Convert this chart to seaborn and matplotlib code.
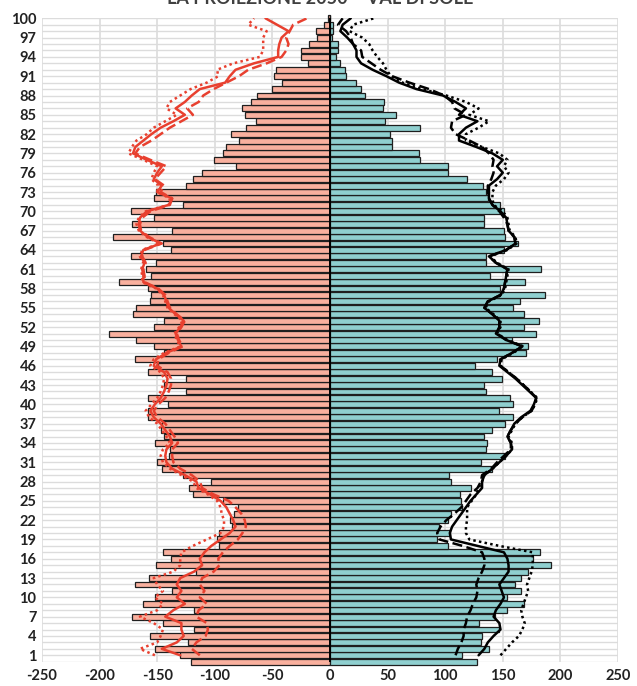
import seaborn as sns
import matplotlib.pyplot as plt
import pandas as pd

# ages for the bars (0..100) and for the projection lines (1..100)
ages = list(range(0, 101))
line_ages = list(range(1, 101))

# bars: left = women (negative), right = men
women = [-121, -130, -152, -123, -156, -118, -145, -172, -118, -162,
         -152, -137, -169, -157, -116, -151, -138, -145, -96, -98,
         -96, -85, -87, -83, -80, -93, -119, -122, -103, -128,
         -146, -150, -140, -139, -152, -144, -147, -146, -158, -158,
         -141, -158, -125, -144, -125, -158, -149, -169, -144, -153,
         -168, -192, -153, -144, -171, -168, -156, -155, -158, -183,
         -155, -160, -151, -173, -138, -145, -188, -137, -172, -153,
         -173, -128, -153, -151, -125, -119, -111, -82, -101, -93,
         -90, -79, -86, -73, -64, -74, -76, -69, -63, -50,
         -42, -49, -47, -19, -25, -25, -18, -11, -12, -5, -2]
men = [128, 115, 138, 131, 132, 147, 129, 143, 154, 168,
       154, 166, 161, 166, 172, 192, 176, 182, 102, 93,
       104, 95, 102, 105, 115, 114, 113, 122, 105, 103,
       141, 131, 152, 135, 136, 134, 141, 152, 159, 147,
       159, 156, 135, 134, 149, 141, 126, 145, 170, 172,
       158, 179, 168, 181, 168, 159, 165, 187, 148, 169,
       139, 183, 135, 135, 151, 163, 152, 151, 134, 134,
       151, 148, 137, 135, 133, 119, 102, 102, 78, 77,
       54, 54, 52, 78, 48, 57, 46, 47, 30, 27,
       23, 14, 13, 9, 5, 7, 7, 2, 3, 3, 0]

# projection lines, women (ages 1..100)
w_solid = [-130, -146, -133, -127, -129, -129, -143, -136, -126, -133,
           -129, -133, -130, -118, -111, -113, -109, -103, -95, -87,
           -82, -84, -87, -90, -95, -104, -114, -116, -126, -137,
           -142, -143, -142, -137, -139, -143, -147, -153, -156, -152,
           -147, -144, -142, -141, -144, -153, -151, -142, -129, -132,
           -134, -130, -127, -134, -140, -142, -144, -150, -162, -162,
           -163, -161, -164, -162, -147, -158, -165, -166, -165, -159,
           -140, -137, -150, -146, -153, -150, -146, -159, -171, -169,
           -162, -155, -147, -136, -126, -134, -126, -120, -113, -91,
           -87, -82, -66, -45, -45, -44, -42, -36, -46, -56]
w_dashed = [-113, -120, -116, -108, -106, -107, -116, -114, -107, -113,
            -109, -113, -111, -101, -96, -97, -93, -87, -80, -76,
            -73, -74, -77, -82, -88, -101, -111, -113, -120, -130,
            -136, -137, -137, -132, -135, -139, -143, -150, -153, -149,
            -143, -140, -138, -138, -141, -150, -149, -140, -128, -131,
            -133, -129, -126, -133, -139, -141, -143, -149, -161, -161,
            -162, -160, -163, -161, -146, -157, -164, -165, -163, -156,
            -139, -137, -147, -144, -152, -147, -142, -156, -169, -165,
            -155, -147, -139, -129, -119, -124, -114, -110, -101, -90,
            -79, -71, -55, -42, -38, -36, -38, -35, -32, -20]
w_dotted = [-152, -165, -150, -147, -145, -153, -165, -150, -145, -152,
            -145, -150, -153, -136, -130, -130, -129, -119, -107, -95,
            -92, -92, -94, -95, -98, -106, -116, -119, -129, -139,
            -145, -147, -145, -139, -142, -146, -150, -157, -160, -155,
            -150, -147, -145, -144, -147, -156, -153, -144, -130, -133,
            -135, -131, -128, -135, -141, -143, -145, -151, -163, -163,
            -164, -162, -165, -163, -148, -159, -166, -168, -166, -160,
            -140, -139, -150, -149, -155, -153, -150, -162, -175, -172,
            -168, -159, -153, -143, -133, -142, -139, -130, -121, -107,
            -97, -98, -84, -61, -58, -58, -58, -55, -71, -66]

# projection lines, men (ages 1..100)
m_solid = [129, 134, 137, 142, 148, 147, 142, 144, 148, 151,
           149, 147, 151, 155, 155, 154, 151, 128, 105, 104,
           106, 110, 114, 118, 122, 127, 132, 132, 134, 141,
           147, 153, 158, 157, 154, 157, 160, 166, 174, 177,
           179, 173, 167, 161, 154, 147, 148, 158, 167, 153,
           144, 147, 147, 141, 134, 137, 148, 151, 152, 153,
           154, 144, 138, 153, 161, 160, 155, 154, 153, 148,
           141, 138, 138, 138, 145, 150, 145, 150, 141, 127,
           112, 112, 118, 128, 112, 118, 109, 98, 75, 60,
           49, 37, 27, 23, 23, 20, 15, 9, 11, 18]
m_dashed = [109, 111, 114, 116, 116, 118, 119, 122, 124, 127,
            128, 127, 129, 132, 134, 134, 132, 115, 95, 93,
            96, 101, 108, 114, 118, 122, 128, 131, 132, 140,
            145, 151, 157, 157, 154, 157, 161, 167, 175, 178,
            179, 174, 168, 162, 155, 148, 148, 158, 167, 153,
            145, 147, 147, 141, 134, 137, 148, 151, 152, 153,
            154, 144, 138, 153, 161, 160, 155, 154, 151, 147,
            141, 138, 137, 137, 140, 142, 141, 142, 138, 132,
            121, 109, 105, 106, 118, 108, 106, 99, 86, 69,
            54, 44, 36, 28, 27, 20, 18, 14, 7, 11]
m_dotted = [148, 153, 158, 164, 167, 169, 167, 166, 168, 170,
            172, 171, 173, 175, 176, 176, 176, 147, 121, 118,
            118, 119, 119, 119, 123, 127, 129, 132, 134, 141,
            147, 153, 158, 158, 155, 158, 161, 167, 175, 178,
            180, 174, 168, 162, 155, 148, 149, 159, 168, 154,
            145, 148, 148, 142, 135, 138, 149, 152, 153, 154,
            155, 145, 139, 154, 162, 161, 156, 155, 154, 150,
            142, 141, 141, 144, 151, 155, 151, 154, 147, 132,
            118, 118, 129, 138, 121, 129, 118, 101, 80, 63,
            53, 49, 46, 41, 37, 34, 28, 17, 20, 38]

title = 'LA PROIEZIONE 2050 – VAL DI SOLE'
x_ticks = [-250, -200, -150, -100, -50, 0, 50, 100, 150, 200, 250]
y_labels = list(range(1, 101, 3))

sns.set_style('white')
plt.rcParams['font.family'] = ['Lato', 'DejaVu Sans']

fig = plt.figure(figsize=(6.37, 6.86), dpi=100)
ax = fig.add_axes([42 / 637, 1 - 661.7 / 686, 576 / 637, 643.4 / 686])

bars = pd.DataFrame({'age': ages + ages,
                     'value': women + men,
                     'side': ['F'] * len(ages) + ['M'] * len(ages)})
sns.barplot(data=bars, x='value', y='age', hue='side', orient='y',
            native_scale=True, dodge=False, width=0.92, errorbar=None,
            saturation=1, palette={'F': '#f9b09e', 'M': '#8fcfcf'},
            edgecolor='#1f1f1f', linewidth=0.9, legend=False, ax=ax)
for p in ax.patches:
    p.set_clip_on(False)
    p.set_zorder(2)

ax.axvline(0, color='black', lw=1.4, zorder=2.5)

red = '#e8402f'
styles = [(w_solid, red, '-'), (w_dashed, red, (0, (4, 1.8))), (w_dotted, red, (0, (1, 1.3))),
          (m_solid, 'black', '-'), (m_dashed, 'black', (0, (4, 1.8))), (m_dotted, 'black', (0, (1, 1.3)))]
for vals, col, ls in styles:
    sns.lineplot(x=vals, y=line_ages, sort=False, estimator=None, color=col,
                 lw=1.8, linestyle=ls, ax=ax, zorder=3)

ax.set_xlim(-250, 250)
ax.set_ylim(0, 100)
ax.set_xticks(x_ticks)
ax.set_xticklabels([str(t) for t in x_ticks])
ax.set_yticks(y_labels)
ax.set_yticklabels([str(t) for t in y_labels])
ax.set_yticks(ages, minor=True)
ax.grid(which='both', axis='y', color='#dcdcdc', lw=1)
ax.grid(which='major', axis='x', color='#dcdcdc', lw=1.2)
ax.set_axisbelow(True)
ax.tick_params(which='both', length=0)
ax.tick_params(axis='y', pad=4)
ax.tick_params(axis='x', pad=5)
for lab in ax.get_xticklabels() + ax.get_yticklabels():
    lab.set_fontsize(10.5)
    lab.set_fontweight('bold')
    lab.set_color('#222222')
ax.set_xlabel('')
ax.set_ylabel('')
for s in ax.spines.values():
    s.set_visible(False)

# the title sits mostly above the top edge, as in the reference
fig.text(0.503, 0.994, title, ha='center', va='baseline', fontsize=13,
         fontweight='bold', color='#404040')

fig.savefig('out.png', dpi=100)
